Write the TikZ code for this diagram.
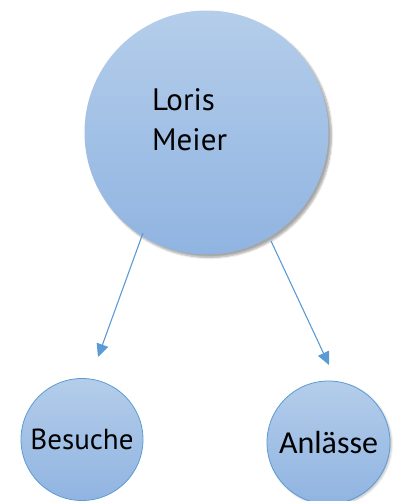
\documentclass[tikz,border=0pt]{standalone}
\usepackage{fontspec}
\setmainfont{PT Sans}
\newfontfamily\calib{Carlito}
\usetikzlibrary{arrows.meta,shadows.blur}
\definecolor{ctop}{HTML}{B4CDEA}
\definecolor{cbot}{HTML}{90B4E1}
\definecolor{cline}{HTML}{5B9BD5}
\tikzset{
  bubble/.style={circle,inner sep=0pt,top color=ctop,bottom color=cbot},
  conn/.style={draw=cline,line width=1.1pt,-{Triangle[length=13pt,width=12pt]}},
  txt/.style={text=black,inner sep=0pt,anchor=base west}
}
\begin{document}
\begin{tikzpicture}[x=1pt,y=-1pt]
\useasboundingbox (0,0) rectangle (398,501);
\node[bubble,minimum size=244pt,blur shadow={shadow xshift=3pt,shadow yshift=-3pt,shadow blur steps=6,shadow opacity=35}] (lm) at (206.5,132.5) {};
\node[bubble,draw=cline,line width=0.8pt,minimum size=122pt] (bs) at (82,439.5) {};
\node[bubble,draw=cline,line width=0.8pt,minimum size=123pt,blur shadow={shadow xshift=1.5pt,shadow yshift=-1.5pt,shadow blur steps=4,shadow opacity=25}] (an) at (328.5,442.5) {};
\node[txt,font=\fontsize{31}{40}\selectfont,align=left,anchor=north west] (lmt) at (152,88) {Loris\\Meier};
\node[txt,font=\fontsize{29}{30}\selectfont,anchor=center] (bst) at (bs) {Besuche};
\node[txt,font=\calib\fontsize{32}{34}\selectfont,anchor=center] (ant) at (an) {Anlässe};
\coordinate (s1) at (143,233);
\coordinate (e1) at (98,357);
\coordinate (s2) at (271,241);
\coordinate (e2) at (329,365);
\draw[conn] (s1) -- (e1);
\draw[conn] (s2) -- (e2);
\end{tikzpicture}
\end{document}
